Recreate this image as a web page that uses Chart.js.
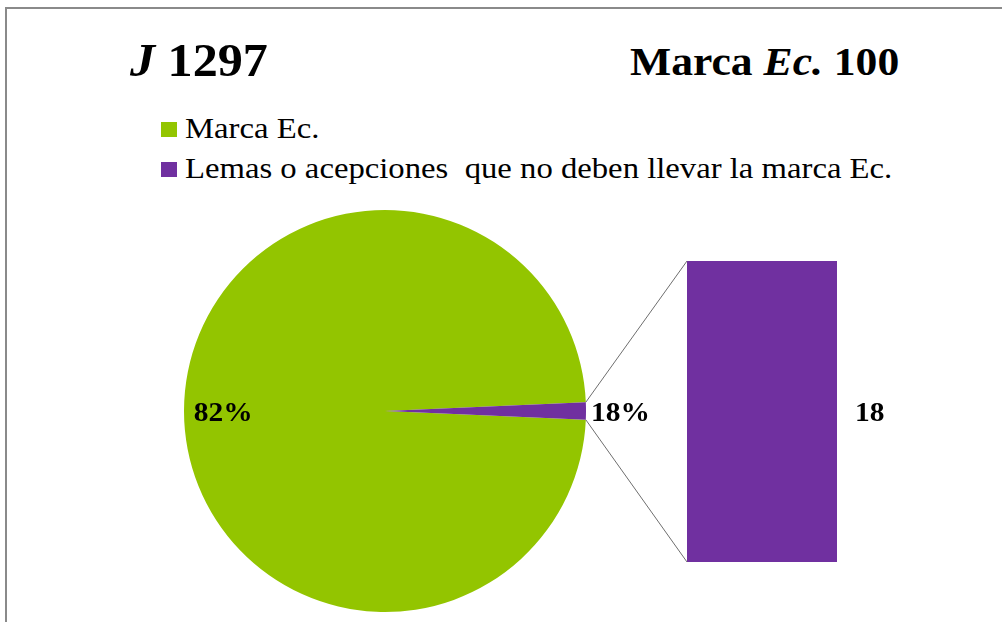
<!DOCTYPE html>
<html>
<head>
<meta charset="utf-8">
<script src="https://cdn.jsdelivr.net/npm/chart.js@4.4.0/dist/chart.umd.min.js"></script>
<style>
  body { margin: 0; background: #fff; }
  #wrap { position: relative; width: 1002px; height: 622px; overflow: hidden; background: #fff;
          font-family: "Liberation Serif", "Times New Roman", serif; color: #000; }
  #frame { position: absolute; left: 5px; top: 7px; right: -10px; bottom: -10px;
           border-top: 2px solid #8a8a8a; border-left: 2px solid #8a8a8a; }
  canvas { position: absolute; left: 0; top: 0; }
  .txt { position: absolute; white-space: pre; line-height: 1; transform-origin: 0 0; transform: scaleX(1.09); }
  .title { font-weight: bold; }
  .key { position: absolute; width: 16px; height: 15px; }
</style>
</head>
<body>
<div id="wrap">
  <div id="frame"></div>
  <div class="txt title" style="left:130px; top:38px; font-size:46px;"><i>J</i> 1297</div>
  <div class="txt title" style="left:630px; top:42px; font-size:40px;">Marca <i>Ec.</i> 100</div>
  <div id="legend"></div>
  <canvas id="pie" width="1002" height="622"></canvas>
  <canvas id="bar" width="1002" height="622"></canvas>
</div>
<script>
// data
const pieLabels = ["Marca Ec.", "Lemas o acepciones  que no deben llevar la marca Ec."];
const pieValues = [1279, 18];
const pieValueLabels = ["82%", "18%"];
const barLabels = ["Lemas o acepciones  que no deben llevar la marca Ec."];
const barValues = [18];
const colors = ["#93C500", "#7030A0"];

const stretch = 1.09; // text in the picture is a bit wide

// legend (html)
const legend = document.getElementById("legend");
pieLabels.forEach((lab, i) => {
  const top = 122 + i * 40;
  const key = document.createElement("div");
  key.className = "key";
  key.style.left = "161px";
  key.style.top = top + "px";
  key.style.background = colors[i];
  legend.appendChild(key);
  const t = document.createElement("div");
  t.className = "txt";
  t.style.left = "185px";
  t.style.top = (top - 9) + "px";
  t.style.fontSize = "30px";
  t.textContent = lab;
  legend.appendChild(t);
});

function drawWide(ctx, txt, x, y) {
  ctx.save();
  ctx.translate(x, y);
  ctx.scale(stretch, 1);
  ctx.fillText(txt, 0, 0);
  ctx.restore();
}

// PIE LABELS
const pieLabelPlugin = {
  id: "pieLabels",
  afterDatasetsDraw(chart) {
    const ctx = chart.ctx;
    const arcs = chart.getDatasetMeta(0).data;
    ctx.save();
    ctx.font = "bold 27px 'Liberation Serif'";
    ctx.fillStyle = "#000";
    ctx.textBaseline = "alphabetic";
    arcs.forEach((arc, i) => {
      const mid = (arc.startAngle + arc.endAngle) / 2;
      const txt = pieValueLabels[i];
      const w = ctx.measureText(txt).width * stretch;
      let x, y;
      if (i === 0) {
        x = arc.x + Math.cos(mid) * arc.outerRadius * 0.805 - w / 2;
        y = arc.y + Math.sin(mid) * arc.outerRadius * 0.805;
      } else {
        x = arc.x + Math.cos(mid) * (arc.outerRadius + 5);
        y = arc.y + Math.sin(mid) * (arc.outerRadius + 5);
      }
      drawWide(ctx, txt, x, y + 9.5);
    });
    ctx.restore();
  }
};

const total = pieValues.reduce((a, b) => a + b, 0);

const pieChart = new Chart(document.getElementById("pie"), {
  type: "pie",
  data: {
    labels: pieLabels,
    datasets: [{
      data: pieValues,
      backgroundColor: colors,
      borderWidth: 0,
      rotation: 90 + (pieValues[1] / total) * 180
    }]
  },
  options: {
    responsive: false,
    animation: false,
    devicePixelRatio: 1,
    events: [],
    layout: { padding: { left: 184, top: 210, right: 416, bottom: 10 } },
    plugins: { legend: { display: false }, tooltip: { enabled: false } }
  },
  plugins: [pieLabelPlugin]
});

// connector lines + bar value label
const barExtras = {
  id: "barExtras",
  afterDatasetsDraw(chart) {
    const ctx = chart.ctx;
    const bar = chart.getDatasetMeta(0).data[0];
    const arc = pieChart.getDatasetMeta(0).data[1];
    const left = bar.x - bar.width / 2;
    const right = bar.x + bar.width / 2;
    ctx.save();
    ctx.strokeStyle = "#6e6e6e";
    ctx.lineWidth = 1;
    ctx.beginPath();
    ctx.moveTo(arc.x + Math.cos(arc.startAngle) * arc.outerRadius, arc.y + Math.sin(arc.startAngle) * arc.outerRadius);
    ctx.lineTo(left, bar.y);
    ctx.moveTo(arc.x + Math.cos(arc.endAngle) * arc.outerRadius, arc.y + Math.sin(arc.endAngle) * arc.outerRadius);
    ctx.lineTo(left, bar.base);
    ctx.stroke();

    ctx.font = "bold 27px 'Liberation Serif'";
    ctx.fillStyle = "#000";
    drawWide(ctx, String(barValues[0]), right + 18, (bar.y + bar.base) / 2 + 9);
    ctx.restore();
  }
};

new Chart(document.getElementById("bar"), {
  type: "bar",
  data: {
    labels: barLabels,
    datasets: [{
      data: barValues,
      backgroundColor: colors[1],
      borderWidth: 0,
      categoryPercentage: 1,
      barPercentage: 1
    }]
  },
  options: {
    responsive: false,
    animation: false,
    devicePixelRatio: 1,
    events: [],
    layout: { padding: { left: 687, top: 261, right: 165, bottom: 60 } },
    scales: {
      x: { display: false },
      y: { display: false, min: 0, max: barValues[0] }
    },
    plugins: { legend: { display: false }, tooltip: { enabled: false } }
  },
  plugins: [barExtras]
});
</script>
</body>
</html>
